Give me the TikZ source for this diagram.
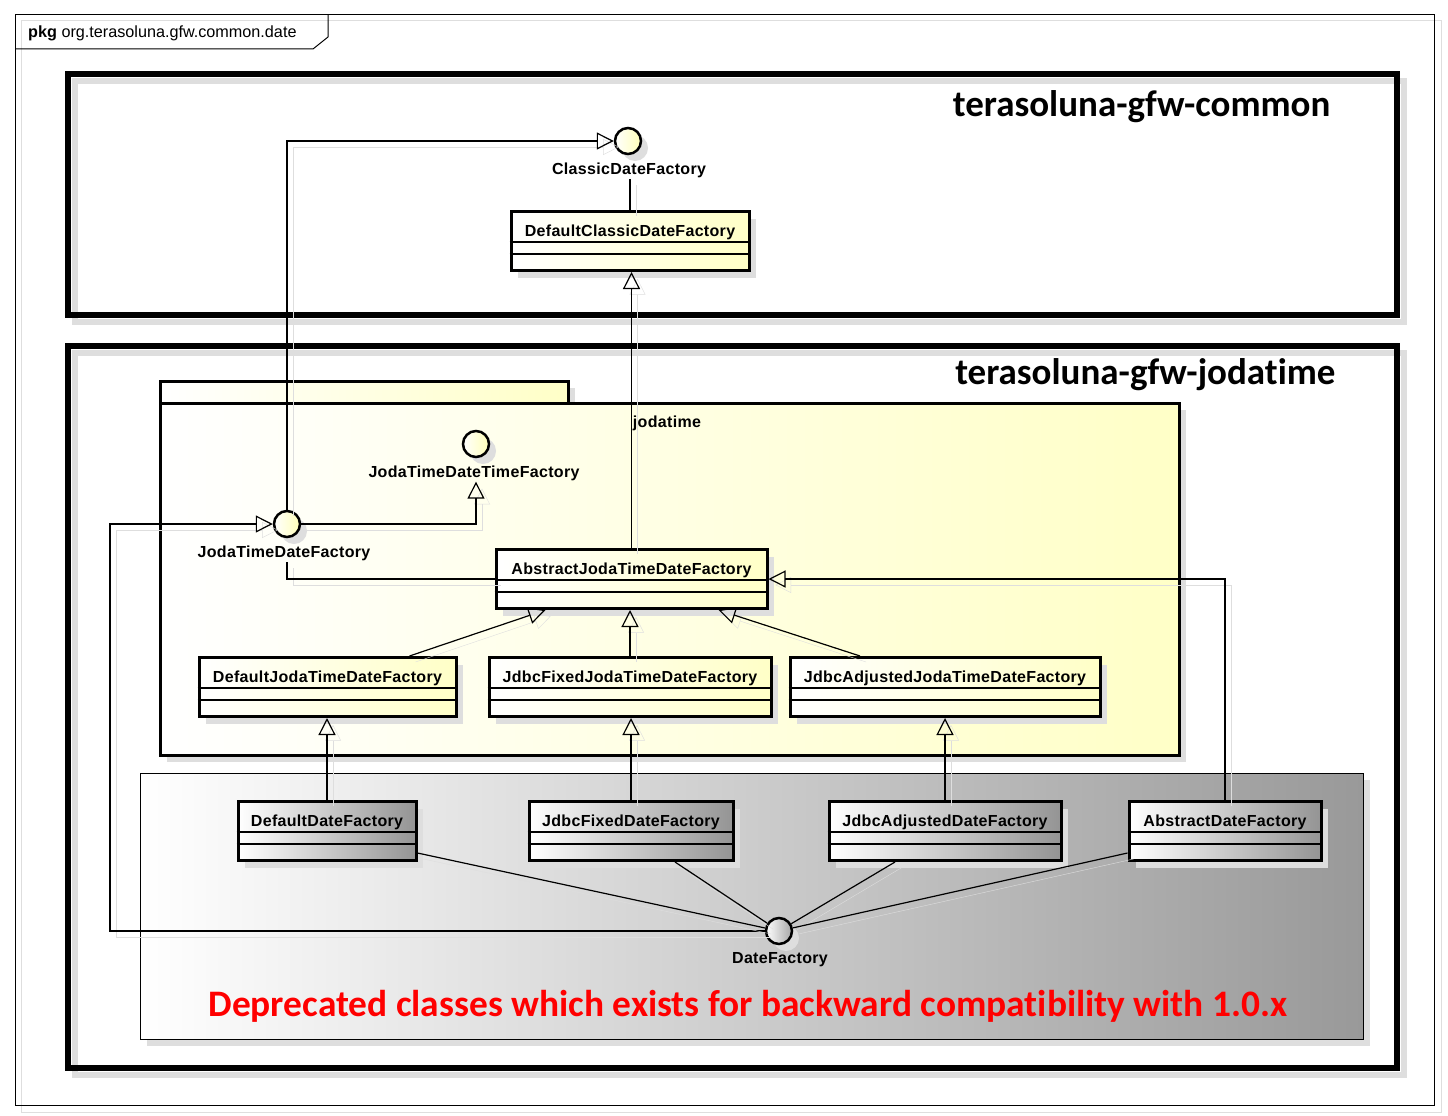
\documentclass[tikz,border=0pt]{standalone}
\usepackage{fontspec}
\setmainfont{Liberation Sans}
\newfontfamily\umlfont[LetterSpace=2]{Liberation Sans}
\newfontfamily\calfont[Ligatures=NoCommon]{Carlito}
\usepackage{tikz}
\usetikzlibrary{arrows.meta}
\usetikzlibrary{shadows}

\tikzset{
  shdw/.style={drop shadow={shadow xshift=7pt,shadow yshift=-7pt,fill=black!13,opacity=1}},
  cls/.style={draw, line width=3pt, anchor=north, minimum height=59pt, inner xsep=0pt,
    inner ysep=0pt, text height=25pt, text depth=34pt,
    font=\umlfont\fontsize{16}{18}\selectfont\bfseries, shdw},
  ycls/.style={cls, left color=white, right color=yellow!22},
  gcls/.style={cls, left color=white, right color=black!42},
  ifc/.style={circle, draw, line width=2.5pt, minimum size=26pt, inner sep=0pt,
    left color=white, right color=yellow!28, shdw},
  ifclbl/.style={font=\umlfont\fontsize{16}{18}\selectfont\bfseries, inner sep=1pt},
  pkgbox/.style={draw, line width=3pt, inner sep=0pt, left color=white, right color=yellow!22, shdw},
  rel/.style={line width=1.2pt, preaction={draw=black!13, transform canvas={shift={(6pt,-6pt)}}}},
  gen/.style={rel, -{Triangle[open,length=17pt,width=17pt]}},
  sepline/.style={line width=1.5pt}
}

\begin{document}
\begin{tikzpicture}[x=1pt, y=-1pt]
\useasboundingbox[fill=white] (0,0) rectangle (1448,1116);

% outer package frame
\draw[black!13, line width=1pt] (21,21) rectangle (1441,1112);
\draw[line width=1pt] (15,15) rectangle (1434,1105);
\draw[line width=1pt] (15,49) -- (313,49) -- (328,37) -- (328,15);
\node[anchor=west, inner sep=0pt, font=\fontsize{16.2}{18}\selectfont] (pkgname) at (28,33)
  {\textbf{pkg} org.terasoluna.gfw.common.date};

% modules
\draw[black!13, line width=6pt] (75,81) rectangle (1404,322);
\draw[line width=6pt] (68,74) rectangle (1397,315);
\node[anchor=east, font=\calfont\bfseries\fontsize{37}{40}\selectfont] (common) at (1334,107) {terasoluna-gfw-common};

\draw[black!13, line width=6pt] (75,353) rectangle (1404,1075);
\draw[line width=6pt] (68,346) rectangle (1397,1068);
\node[anchor=east, font=\calfont\bfseries\fontsize{37}{40}\selectfont] (jodamod) at (1339,375) {terasoluna-gfw-jodatime};

% jodatime package
\node[pkgbox, minimum width=408pt, minimum height=22pt] (jodatab) at (364,392) {};
\node[pkgbox, minimum width=1019pt, minimum height=352pt] (jodabody) at (669.5,579) {};
\node[ifclbl] (jodalbl) at (667,423) {jodatime};

% deprecated area
\node[draw, line width=1pt, minimum width=1223pt, minimum height=266pt, inner sep=0pt,
  left color=white, right color=black!40, shdw] (deprecated) at (751.5,906) {};
\node[text=red, font=\calfont\bfseries\fontsize{37.4}{42}\selectfont] (note) at (748,1006)
  {Deprecated classes which exists for backward compatibility with 1.0.x};

% classes
\node[ycls, minimum width=238pt] (dcdf) at (630,210) {DefaultClassicDateFactory};
\node[ycls, minimum width=271pt] (ajtdf) at (631.5,548) {AbstractJodaTimeDateFactory};
\node[ycls, minimum width=257pt] (djtdf) at (327.5,656) {DefaultJodaTimeDateFactory};
\node[ycls, minimum width=282pt] (jfjtdf) at (630,656) {JdbcFixedJodaTimeDateFactory};
\node[ycls, minimum width=310pt] (jajtdf) at (945,656) {JdbcAdjustedJodaTimeDateFactory};
\node[gcls, minimum width=178pt] (ddf) at (327,800) {DefaultDateFactory};
\node[gcls, minimum width=204pt] (jfdf) at (631,800) {JdbcFixedDateFactory};
\node[gcls, minimum width=232pt] (jadf) at (945,800) {JdbcAdjustedDateFactory};
\node[gcls, minimum width=192pt] (adf) at (1225,800) {AbstractDateFactory};

\foreach \c in {dcdf,ajtdf,djtdf,jfjtdf,jajtdf,ddf,jfdf,jadf,adf}{
  \draw[sepline] ([yshift=-32pt]\c.north west) -- ([yshift=-32pt]\c.north east);
  \draw[sepline] ([yshift=-44pt]\c.north west) -- ([yshift=-44pt]\c.north east);
}

% interfaces
\node[ifc] (cdf) at (628,141) {};
\node[ifclbl] (cdfl) at (629,170) {ClassicDateFactory};
\node[ifc] (jtdtf) at (476,444) {};
\node[ifclbl] (jtdtfl) at (474,473) {JodaTimeDateTimeFactory};
\node[ifc] (jtdf) at (287,524) {};
\node[ifclbl] (jtdfl) at (284,553) {JodaTimeDateFactory};
\node[ifc, right color=black!35] (df) at (779,931) {};
\node[ifclbl] (dfl) at (780,960) {DateFactory};

\coordinate (leftbend) at (110,0);

% connectors
\draw[rel] (dcdf.north) -- (dcdf.north |- cdfl.south);
\draw[gen] (ajtdf.north) -- (ajtdf.north |- dcdf.south);
\draw[gen] (jtdf.north) |- (cdf.west);
\draw[gen] (jtdf.east) -| (jtdtf.south |- jtdtfl.south);
\draw[rel] (ajtdf.west) -| (jtdf.south |- jtdfl.south);

\draw[gen] ([xshift=82pt]djtdf.north) -- ([xshift=-86pt]ajtdf.south);
\draw[gen] (jfjtdf.north) -- (jfjtdf.north |- ajtdf.south);
\draw[gen] ([xshift=-85pt]jajtdf.north) -- ([xshift=87pt]ajtdf.south);
\draw[gen] (adf.north) |- (ajtdf.east);

\draw[gen] (ddf.north) -- (ddf.north |- djtdf.south);
\draw[gen] (jfdf.north) -- (jfdf.north |- jfjtdf.south);
\draw[gen] (jadf.north) -- (jadf.north |- jajtdf.south);

\draw[gen] (df.west) -- (df.west -| leftbend) |- (jtdf.west);
\draw[rel] ([yshift=-22pt]ddf.east) -- (df);
\draw[rel] ([xshift=44pt]jfdf.south) -- (df);
\draw[rel] ([xshift=-50pt]jadf.south) -- (df);
\draw[rel] ([yshift=-22pt]adf.west) -- (df);
\end{tikzpicture}
\end{document}
